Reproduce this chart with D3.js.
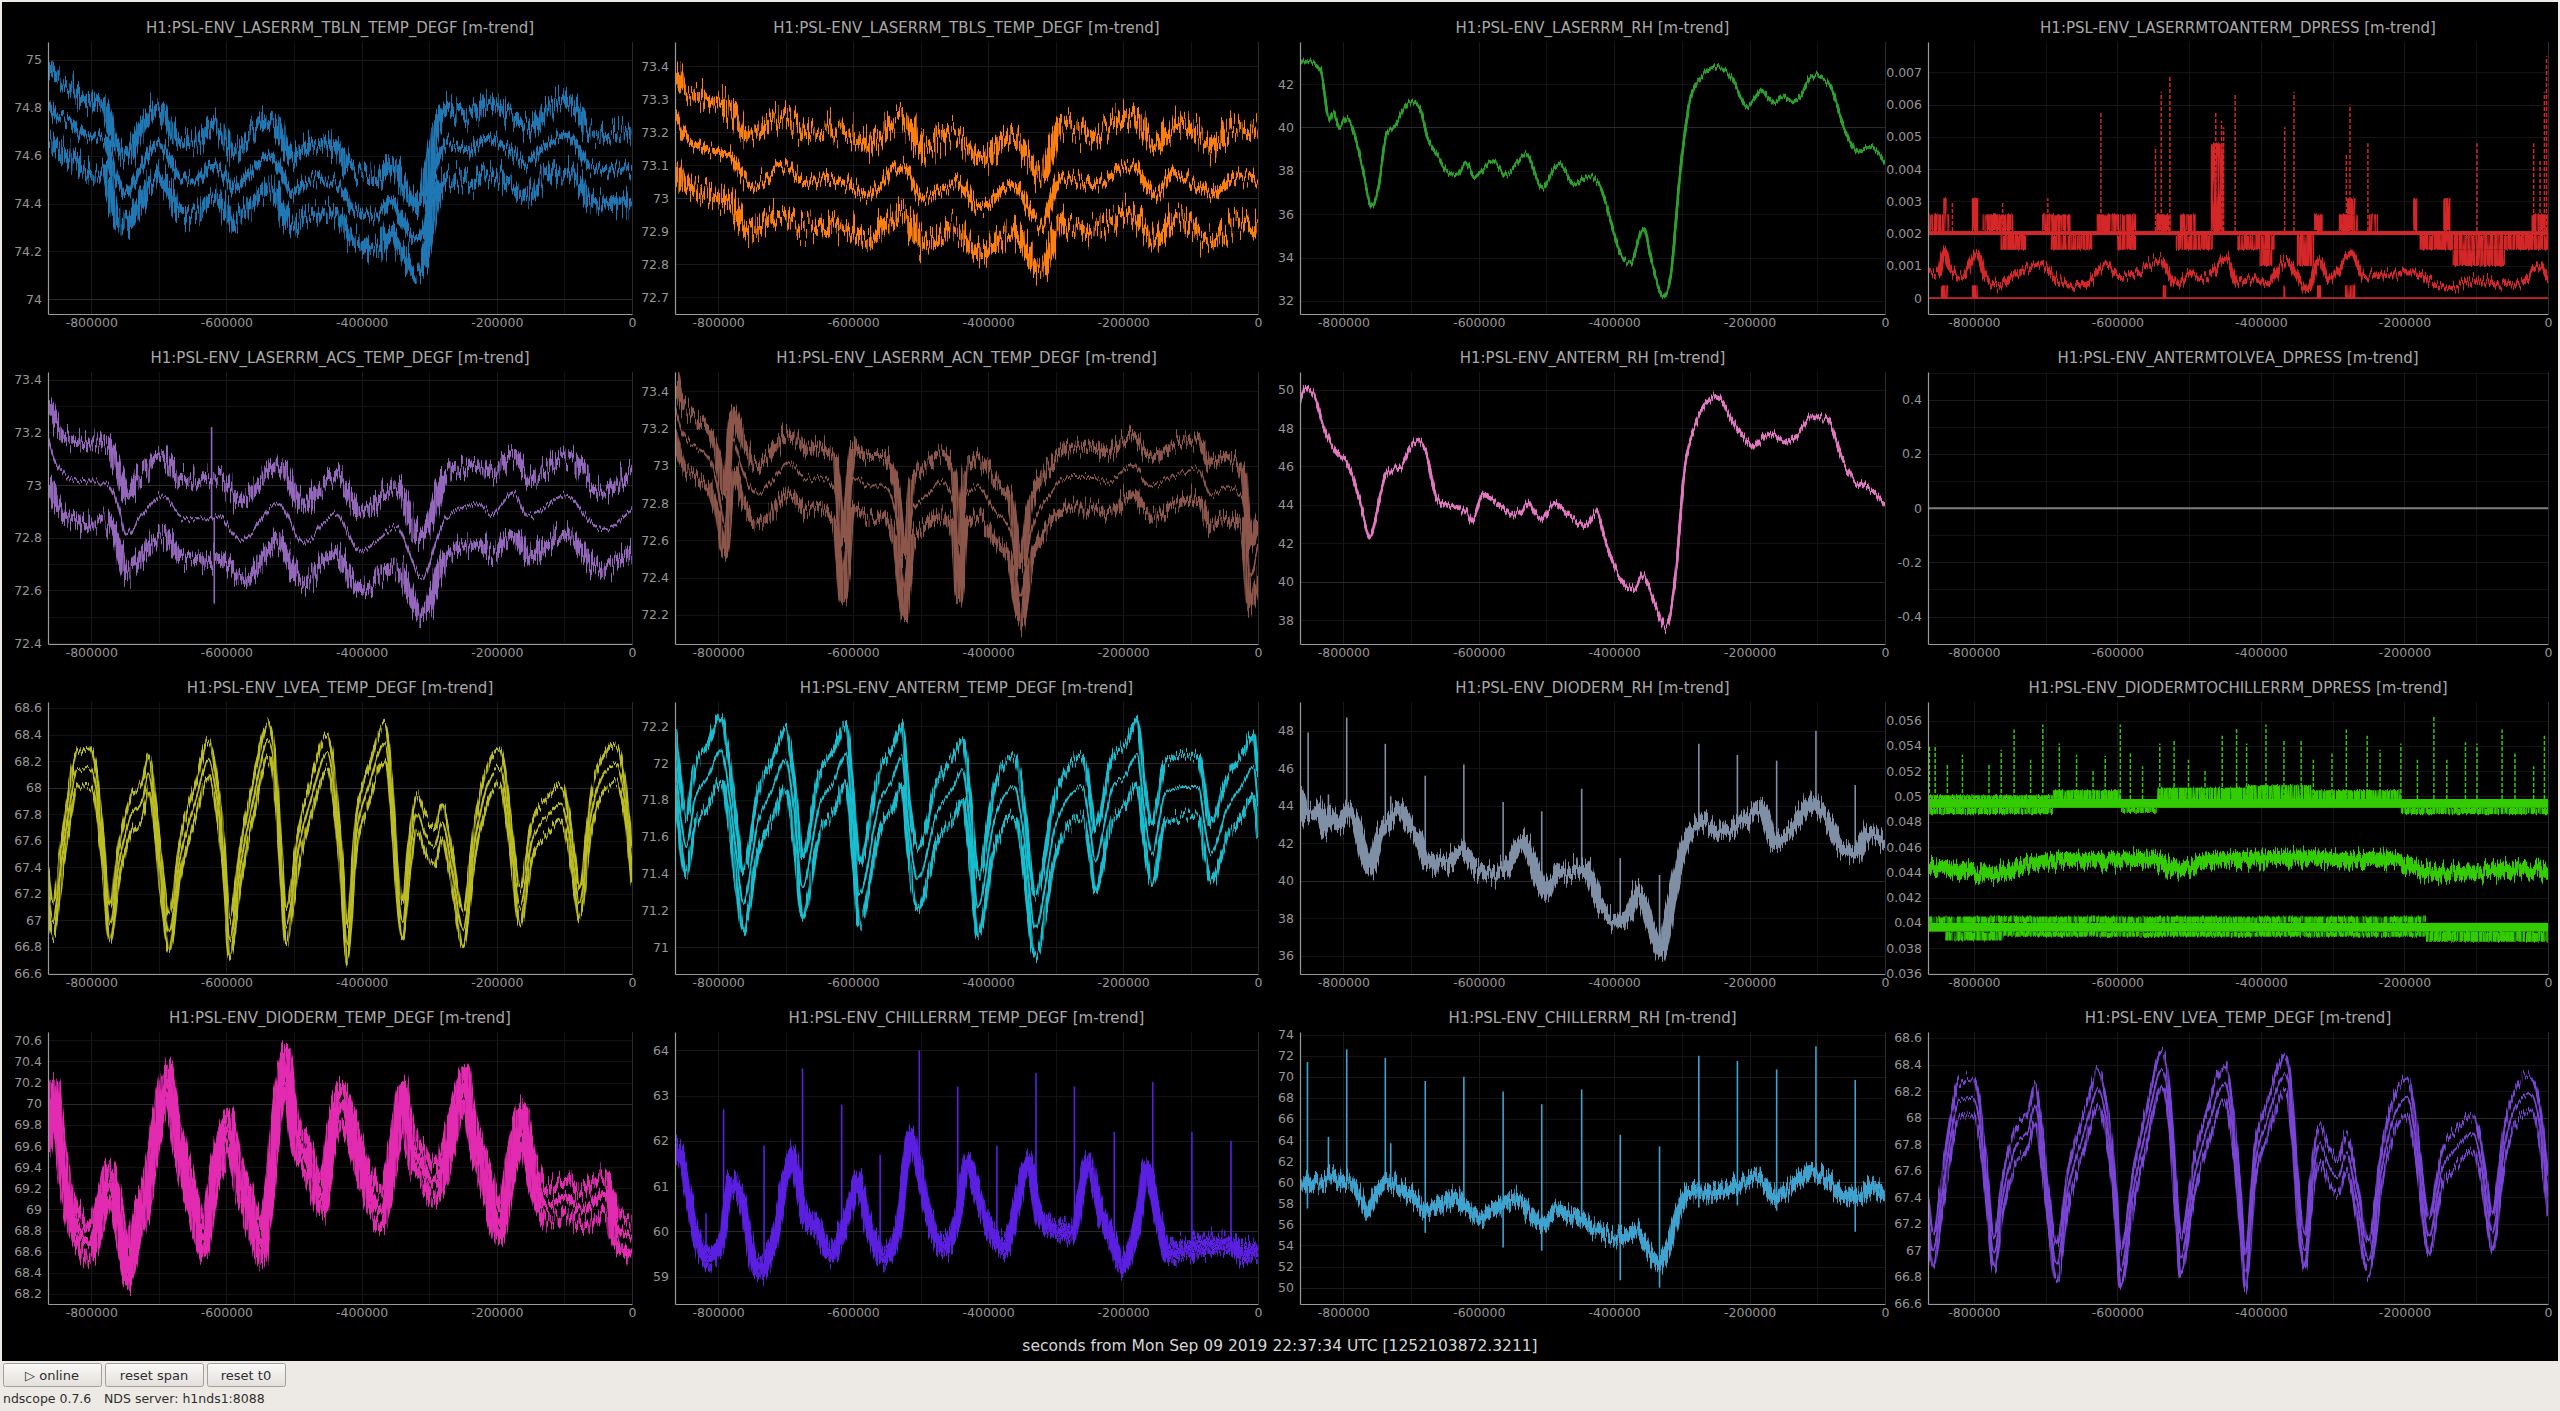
<!DOCTYPE html>
<html>
<head>
<meta charset="utf-8">
<title>ndscope</title>
<script src="https://cdn.jsdelivr.net/npm/d3@7/dist/d3.min.js"></script>
<style>
  body { margin: 0; background: #edeae6; overflow: hidden; }
  svg { display: block; }
  text { font-family: "DejaVu Sans", sans-serif; }
</style>
</head>
<body>
<svg id="scope" width="2560" height="1411"></svg>
<script>
// x axis is seconds before t0, the series keep their time in ks (1000 s)
var xTicks = [-800000, -600000, -400000, -200000, 0];

var titles = [
  'H1:PSL-ENV_LASERRM_TBLN_TEMP_DEGF [m-trend]',
  'H1:PSL-ENV_LASERRM_TBLS_TEMP_DEGF [m-trend]',
  'H1:PSL-ENV_LASERRM_RH [m-trend]',
  'H1:PSL-ENV_LASERRMTOANTERM_DPRESS [m-trend]',
  'H1:PSL-ENV_LASERRM_ACS_TEMP_DEGF [m-trend]',
  'H1:PSL-ENV_LASERRM_ACN_TEMP_DEGF [m-trend]',
  'H1:PSL-ENV_ANTERM_RH [m-trend]',
  'H1:PSL-ENV_ANTERMTOLVEA_DPRESS [m-trend]',
  'H1:PSL-ENV_LVEA_TEMP_DEGF [m-trend]',
  'H1:PSL-ENV_ANTERM_TEMP_DEGF [m-trend]',
  'H1:PSL-ENV_DIODERM_RH [m-trend]',
  'H1:PSL-ENV_DIODERMTOCHILLERRM_DPRESS [m-trend]',
  'H1:PSL-ENV_DIODERM_TEMP_DEGF [m-trend]',
  'H1:PSL-ENV_CHILLERRM_TEMP_DEGF [m-trend]',
  'H1:PSL-ENV_CHILLERRM_RH [m-trend]',
  'H1:PSL-ENV_LVEA_TEMP_DEGF [m-trend]'
];

var colors = ['#1f77b4', '#ff7f0e', '#2ca02c', '#d62728', '#9467bd', '#8c564b', '#e377c2', '#7f7f7f',
              '#bcbd22', '#17becf', '#7f8fa6', '#33cc00', '#e22bb0', '#5a1fe0', '#3fa3cf', '#7a45d4'];

var yDomains = [[73.939, 75.074], [72.65, 73.474], [31.4, 43.94], [-0.00049, 0.00794],
                [72.397, 73.429], [72.044, 73.504], [36.75, 50.92], [-0.501, 0.502],
                [66.595, 68.645], [70.855, 72.332], [35.02, 49.53], [0.03595, 0.05748],
                [68.105, 70.679], [58.395, 64.406], [48.45, 74.25], [66.595, 68.645]];

var yTicks = [
  [74, 74.2, 74.4, 74.6, 74.8, 75],
  [72.7, 72.8, 72.9, 73, 73.1, 73.2, 73.3, 73.4],
  [32, 34, 36, 38, 40, 42],
  [0, 0.001, 0.002, 0.003, 0.004, 0.005, 0.006, 0.007],
  [72.4, 72.6, 72.8, 73, 73.2, 73.4],
  [72.2, 72.4, 72.6, 72.8, 73, 73.2, 73.4],
  [38, 40, 42, 44, 46, 48, 50],
  [-0.4, -0.2, 0, 0.2, 0.4],
  [66.6, 66.8, 67, 67.2, 67.4, 67.6, 67.8, 68, 68.2, 68.4, 68.6],
  [71, 71.2, 71.4, 71.6, 71.8, 72, 72.2],
  [36, 38, 40, 42, 44, 46, 48],
  [0.036, 0.038, 0.04, 0.042, 0.044, 0.046, 0.048, 0.05, 0.052, 0.054, 0.056],
  [68.2, 68.4, 68.6, 68.8, 69, 69.2, 69.4, 69.6, 69.8, 70, 70.2, 70.4, 70.6],
  [59, 60, 61, 62, 63, 64],
  [50, 52, 54, 56, 58, 60, 62, 64, 66, 68, 70, 72, 74],
  [66.6, 66.8, 67, 67.2, 67.4, 67.6, 67.8, 68, 68.2, 68.4, 68.6]
];

// mean traces, [t ks, value]
var tblnMean = [[-864,74.82],[-848,74.76],[-830,74.74],[-811,74.68],[-780,74.67],[-768,74.53],[-756,74.46],[-750,74.44],[-731,74.53],[-701,74.65],[-688,74.61],[-670,74.51],[-645,74.50],[-621,74.57],[-599,74.50],[-590,74.46],[-566,74.53],[-535,74.60],[-510,74.47],[-504,74.44],[-480,74.49],[-449,74.50],[-431,74.47],[-418,74.40],[-394,74.36],[-375,74.35],[-357,74.42],[-345,74.36],[-320,74.25],[-308,74.29],[-290,74.57],[-271,74.65],[-240,74.62],[-216,74.67],[-179,74.62],[-155,74.57],[-130,74.64],[-99,74.68],[-81,74.64],[-63,74.55],[-38,74.54],[-13,74.55],[0,74.53]];
var tblsMean = [[-864,73.25],[-848,73.18],[-818,73.15],[-782,73.13],[-764,73.06],[-752,73.04],[-703,73.10],[-673,73.05],[-636,73.06],[-606,73.04],[-582,73.01],[-527,73.10],[-497,73.00],[-448,73.05],[-412,72.97],[-364,73.04],[-321,72.92],[-291,73.07],[-248,73.04],[-188,73.10],[-152,73.01],[-121,73.08],[-67,73.01],[-30,73.07],[0,73.05]];
var laserRh = [[-864,43.05],[-845,42.97],[-833,42.6],[-821,40.35],[-815,40.74],[-805,39.97],[-796,40.43],[-784,39.74],[-772,38.2],[-758,36.35],[-748,37.28],[-736,39.74],[-724,40.12],[-712,40.8],[-700,41.2],[-688,40.97],[-675,39.43],[-663,38.82],[-645,37.9],[-633,37.8],[-619,38.35],[-606,37.74],[-579,38.5],[-560,37.8],[-530,38.78],[-506,37.2],[-482,38.35],[-458,37.35],[-439,37.74],[-421,37.28],[-403,35.43],[-391,34.2],[-376,33.74],[-357,35.35],[-343,33.58],[-327,32.2],[-316,33.28],[-304,37.43],[-288,41.28],[-270,42.35],[-248,42.8],[-228,42.35],[-203,40.97],[-183,41.66],[-163,41.12],[-151,41.43],[-137,41.2],[-125,41.43],[-107,42.43],[-82,41.97],[-58,39.74],[-40,38.9],[-22,39.12],[0,38.35]];
var dpMean = [[-864,0.00088],[-849,0.00078],[-842,0.0015],[-834,0.00098],[-818,0.00067],[-795,0.0014],[-785,0.00067],[-763,0.00036],[-745,0.00078],[-705,0.00103],[-684,0.00057],[-653,0.00036],[-617,0.00103],[-598,0.00067],[-574,0.00078],[-540,0.0012],[-519,0.00041],[-500,0.00078],[-476,0.0006],[-448,0.00123],[-433,0.00047],[-409,0.00057],[-390,0.00047],[-366,0.00119],[-335,0.00026],[-319,0.0012],[-305,0.00057],[-274,0.0014],[-256,0.00067],[-219,0.00078],[-182,0.00078],[-164,0.00047],[-133,0.00036],[-97,0.00057],[-66,0.00041],[-36,0.00052],[-11,0.00098],[0,0.00057]];
var acsMean = [[-864,73.17],[-851,73.08],[-827,73.02],[-802,73.01],[-778,73.01],[-760,72.92],[-748,72.81],[-730,72.87],[-693,72.96],[-669,72.88],[-655,72.87],[-626,72.87],[-612,72.88],[-578,72.79],[-524,72.93],[-487,72.78],[-439,72.89],[-402,72.75],[-348,72.84],[-312,72.65],[-275,72.88],[-227,72.93],[-208,72.89],[-175,72.97],[-154,72.88],[-99,72.96],[-45,72.83],[0,72.91]];
var acnMean = [[-864,73.32],[-851,73.16],[-833,73.10],[-815,73.05],[-802,72.91],[-790,72.69],[-778,73.14],[-766,73.00],[-742,72.85],[-694,73.01],[-669,72.93],[-651,72.94],[-627,72.87],[-615,72.44],[-600,72.94],[-579,72.89],[-554,72.89],[-536,72.73],[-524,72.35],[-512,72.76],[-488,72.85],[-470,72.91],[-451,72.80],[-443,72.44],[-433,72.84],[-415,72.89],[-391,72.76],[-367,72.66],[-352,72.30],[-338,72.62],[-310,72.84],[-280,72.94],[-243,72.94],[-222,72.91],[-185,73.01],[-161,72.89],[-119,72.96],[-88,72.98],[-70,72.84],[-46,72.89],[-22,72.82],[-12,72.41],[0,72.57]];
var antermRh = [[-864,49.39],[-855,50.09],[-842,49.65],[-830,48.09],[-818,47.13],[-806,46.6],[-794,46.17],[-776,44.26],[-760,42.35],[-752,43.4],[-737,45.65],[-727,45.9],[-715,46.0],[-703,46.87],[-689,47.39],[-679,46.87],[-661,44.26],[-642,43.91],[-618,43.65],[-610,43.13],[-594,44.52],[-576,44.17],[-552,43.57],[-539,43.57],[-527,44.09],[-509,43.22],[-487,44.09],[-467,43.39],[-442,42.96],[-427,43.65],[-412,42.0],[-394,40.35],[-370,39.57],[-358,40.35],[-339,38.78],[-324,37.65],[-309,40.43],[-297,45.48],[-279,48.26],[-249,49.65],[-218,47.91],[-194,47.04],[-170,47.74],[-146,47.3],[-131,47.57],[-107,48.6],[-85,48.43],[-61,46.17],[-42,45.13],[-18,44.78],[0,43.91]];
var antermToLvea = [[-864,0],[0,0]];
var lveaMean = [[-864,67.25],[-857,67.0],[-845,67.4],[-833,67.83],[-821,68.13],[-802,68.15],[-793,68.0],[-784,67.58],[-772,66.98],[-760,67.4],[-742,67.78],[-724,67.91],[-715,68.1],[-705,67.75],[-696,67.3],[-685,66.9],[-669,67.45],[-645,67.91],[-627,68.21],[-615,67.96],[-602,67.33],[-596,66.85],[-578,67.45],[-560,67.91],[-538,68.36],[-526,67.96],[-518,67.33],[-512,66.95],[-493,67.55],[-475,67.91],[-451,68.26],[-439,67.91],[-429,67.33],[-422,66.83],[-408,67.65],[-390,68.0],[-366,68.33],[-356,67.96],[-348,67.33],[-339,67.0],[-330,67.45],[-318,67.8],[-305,67.63],[-293,67.55],[-281,67.73],[-267,67.4],[-250,66.93],[-233,67.58],[-215,68.0],[-196,68.15],[-184,67.83],[-175,67.4],[-166,67.1],[-148,67.6],[-126,67.78],[-105,67.88],[-93,67.65],[-85,67.35],[-78,67.13],[-61,67.78],[-39,68.13],[-24,68.18],[-12,67.96],[0,67.4]];
var antermTemp = [[-864,72.02],[-855,71.69],[-847,71.55],[-835,71.8],[-815,71.93],[-796,72.07],[-784,71.84],[-772,71.47],[-763,71.24],[-742,71.66],[-718,71.87],[-700,72.02],[-688,71.75],[-675,71.33],[-651,71.76],[-627,71.91],[-611,72.05],[-600,71.66],[-591,71.29],[-560,71.8],[-542,71.91],[-528,72.04],[-518,71.66],[-504,71.37],[-476,71.73],[-451,71.87],[-438,71.96],[-427,71.66],[-415,71.22],[-391,71.69],[-361,71.87],[-349,71.66],[-330,71.11],[-300,71.66],[-261,71.87],[-249,71.66],[-242,71.47],[-215,71.87],[-197,71.93],[-179,72.05],[-169,71.75],[-157,71.51],[-137,71.84],[-107,71.87],[-88,71.87],[-80,71.69],[-70,71.51],[-46,71.75],[-22,71.89],[-7,71.98],[0,71.77]];
var diodeRh = [[-864,44.67],[-855,43.42],[-842,43.42],[-834,43.87],[-827,42.71],[-818,43.6],[-806,42.98],[-794,43.78],[-782,43.25],[-770,41.47],[-760,40.58],[-746,42.53],[-730,43.25],[-715,43.87],[-703,42.89],[-691,42.53],[-676,40.93],[-664,41.11],[-649,40.93],[-624,41.64],[-606,40.75],[-582,40.4],[-558,40.75],[-536,42.09],[-521,41.11],[-502,39.33],[-485,40.4],[-461,40.58],[-442,40.75],[-424,38.97],[-400,37.91],[-382,38.08],[-364,39.33],[-346,37.55],[-331,36.21],[-315,38.97],[-297,41.82],[-273,43.07],[-242,42.53],[-212,43.07],[-182,43.96],[-164,42.0],[-139,42.71],[-109,44.14],[-85,43.25],[-61,41.64],[-42,41.47],[-24,42.53],[0,42.0]];
var ddMean = [[-864,0.04445],[-829,0.0443],[-783,0.0439],[-725,0.0446],[-667,0.0450],[-597,0.0450],[-551,0.0451],[-516,0.0442],[-470,0.0450],[-400,0.0451],[-330,0.0452],[-284,0.0450],[-226,0.0451],[-168,0.0441],[-110,0.0439],[-52,0.0442],[0,0.0442]];
var diodeTemp = [[-864,69.69],[-859,69.94],[-853,70.07],[-845,69.56],[-833,69.06],[-815,68.77],[-802,68.68],[-790,68.87],[-775,69.25],[-762,69.03],[-754,68.68],[-744,68.46],[-732,68.87],[-718,69.12],[-702,69.82],[-687,70.2],[-675,69.75],[-655,69.19],[-633,68.74],[-618,69.31],[-596,69.75],[-584,69.37],[-566,69.0],[-548,68.68],[-536,69.19],[-524,69.97],[-512,70.35],[-499,69.75],[-481,69.5],[-457,69.12],[-445,69.69],[-429,70.0],[-415,69.75],[-396,69.31],[-369,69.0],[-354,69.5],[-339,70.04],[-330,69.69],[-312,69.44],[-293,69.25],[-281,69.37],[-263,69.82],[-249,70.16],[-233,69.66],[-215,69.25],[-196,68.87],[-178,69.44],[-162,69.82],[-148,69.37],[-124,69.03],[-99,69.12],[-75,69.0],[-39,69.15],[-21,68.8],[0,68.74]];
var chillerTemp = [[-864,61.8],[-857,61.73],[-845,60.92],[-833,59.88],[-815,59.44],[-796,59.74],[-781,61.06],[-766,60.77],[-754,59.74],[-742,59.15],[-718,59.74],[-702,61.06],[-690,61.65],[-675,60.55],[-651,59.96],[-633,59.52],[-609,60.33],[-593,61.06],[-576,60.03],[-554,59.44],[-533,60.03],[-516,62.02],[-500,61.21],[-488,60.33],[-464,59.66],[-445,60.33],[-431,61.51],[-415,60.77],[-397,60.03],[-375,59.66],[-355,60.77],[-340,61.51],[-324,60.33],[-300,60.03],[-276,59.96],[-252,61.51],[-234,60.47],[-215,59.74],[-201,59.29],[-179,60.18],[-165,61.36],[-149,60.33],[-133,59.52],[-94,59.66],[-46,59.74],[-22,59.52],[0,59.59]];
var chillerRh = [[-864,60.23],[-855,59.75],[-842,60.23],[-830,59.91],[-818,60.54],[-802,60.07],[-788,59.91],[-776,58.64],[-764,57.37],[-749,59.27],[-733,60.07],[-715,59.27],[-697,58.64],[-679,57.37],[-655,58.0],[-636,58.48],[-618,57.69],[-600,56.58],[-582,57.22],[-564,58.0],[-545,58.48],[-527,57.37],[-507,55.79],[-485,57.37],[-467,57.06],[-449,56.43],[-430,55.48],[-412,55.0],[-388,54.68],[-367,55.48],[-352,53.9],[-336,52.3],[-318,54.2],[-303,57.69],[-285,59.12],[-255,58.96],[-224,59.59],[-196,60.38],[-182,60.23],[-164,58.64],[-139,59.59],[-109,61.02],[-85,60.23],[-61,58.64],[-36,58.64],[-18,59.43],[0,58.64]];

// min / max traces sit this far [below, above] the mean
var spreads = [[0.14, 0.15], [0.14, 0.15], [0.04, 0.04], null, [0.15, 0.15], [0.16, 0.16], [0.07, 0.07], null,
               [0.13, 0.14], [0.16, 0.17], [0.2, 0.2], null, [0.16, 0.16], [0.15, 0.15], [0.4, 0.4], [0.13, 0.14]];

// max spikes [t ks, peak] and min dips [t ks, low]
var acsSpikes = [[-622,73.22]];
var acsDips = [[-618,72.55]];
var diodeRhSpikes = [[-852,47.9],[-822,44.6],[-795,48.7],[-738,47.3],[-730,44.5],[-679,45.6],[-622,46.2],[-564,44.2],[-507,43.7],[-448,44.9],[-391,41.2],[-333,40.3],[-275,47.3],[-218,46.7],[-160,46.4],[-102,48.0],[-44,45.1]];
var chillerTempSpikes = [[-818,60.4],[-792,62.7],[-732,61.9],[-675,63.6],[-617,62.8],[-560,61.7],[-502,64.0],[-445,63.2],[-387,61.9],[-329,63.5],[-272,63.2],[-213,62.2],[-156,63.3],[-98,62.2],[-40,62.0]];
var chillerRhSpikes = [[-853,71.4],[-822,64.3],[-795,72.6],[-738,71.8],[-730,63.7],[-679,69.6],[-622,70.0],[-564,68.6],[-507,67.4],[-448,68.8],[-391,64.5],[-333,63.4],[-275,72.0],[-218,71.5],[-160,70.7],[-102,72.9],[-44,69.7]];
var chillerRhDips = [[-853,57.5],[-679,55.2],[-564,53.8],[-507,53.5],[-391,50.7],[-333,50.0],[-275,57.6],[-218,57.8],[-160,57.3],[-44,55.3]];

// quantised pressure channels: resting levels, flicker blocks [t0, t1, lo, hi], spikes above the max level
var dpCore = [[-864,0,0.00196,0.00208],[-864,0,-0.00002,0.00003]];
var dpFlicker = [[-864,-834,0.00208,0.0026],[-843,-838,0.0026,0.0031],[-803,-794,0.00208,0.0031],[-788,-745,0.00208,0.0026],[-705,-665,0.00208,0.0026],[-629,-574,0.00208,0.0026],[-546,-525,0.00208,0.0026],[-513,-491,0.00208,0.0026],[-470,-452,0.00208,0.0048],[-326,-314,0.00208,0.0026],[-292,-265,0.00208,0.0026],[-280,-268,0.0026,0.0031],[-250,-237,0.00208,0.0026],[-188,-182,0.00208,0.0031],[-146,-136,0.00208,0.0031],[-23,0,0.00208,0.0026],
  [-763,-727,0.0015,0.00196],[-693,-635,0.0015,0.00196],[-601,-574,0.0015,0.00196],[-519,-467,0.0015,0.00196],[-433,-381,0.0015,0.00196],[-402,-384,0.001,0.0015],[-350,-326,0.001,0.00196],[-179,0,0.0015,0.00196],[-133,-60,0.001,0.0015],
  [-846,-836,0,0.0004],[-803,-794,0,0.0004],[-537,-532,0,0.0004],[-369,-366,0,0.0004],[-322,-316,0,0.0004],[-283,-268,0,0.0004]];
var dpSpikes = [[-830,0.0030],[-760,0.0030],[-697,0.0031],[-623,0.0058],[-547,0.0047],[-539,0.0064],[-527,0.0069],[-463,0.0058],[-455,0.0055],[-452,0.0053],[-436,0.0063],[-367,0.0053],[-354,0.0064],[-281,0.0045],[-276,0.0060],[-251,0.0048],[-99,0.0048],[-20,0.0048],[-11,0.0043],[-5,0.0064],[-2,0.0075]];
var ddCore = [[-864,0,0.0491,0.0498],[-864,0,0.0393,0.0400]];
var ddFlicker = [[-864,-690,0.0486,0.0491],[-864,-690,0.0498,0.0501],[-690,-595,0.0495,0.0505],[-595,-545,0.0487,0.0491],[-545,-420,0.0496,0.0507],[-420,-330,0.0496,0.0509],[-330,-205,0.0496,0.0505],[-205,0,0.0486,0.0491],
  [-864,-170,0.0400,0.0405],[-840,-760,0.0386,0.0393],[-760,-170,0.0389,0.0393],[-170,0,0.0385,0.0393]];
var ddSpikes = [[-862,0.0540],[-854,0.0541],[-837,0.0526],[-816,0.0533],[-779,0.0525],[-762,0.0537],[-744,0.0553],[-721,0.0529],[-704,0.0557],[-681,0.0542],[-657,0.0533],[-634,0.0521],[-617,0.0532],[-596,0.0557],[-582,0.0534],[-565,0.0524],[-541,0.0542],[-521,0.0545],[-501,0.0529],[-478,0.0521],[-454,0.0548],[-434,0.0555],[-420,0.0542],[-393,0.0557],[-368,0.0545],[-344,0.0545],[-327,0.0529],[-301,0.0534],[-281,0.0553],[-252,0.0548],[-234,0.0537],[-205,0.0542],[-182,0.0529],[-159,0.0563],[-141,0.0529],[-115,0.0543],[-99,0.0542],[-64,0.0553],[-46,0.0534],[-20,0.0524],[-5,0.0548]];

var bottomLabel = 'seconds from Mon Sep 09 2019 22:37:34 UTC [1252103872.3211]';
var buttonLabels = ['\u25B7 online', 'reset span', 'reset t0'];
var statusLabels = ['ndscope 0.7.6', 'NDS server: h1nds1:8088'];

var means = [tblnMean, tblsMean, laserRh, dpMean, acsMean, acnMean, antermRh, antermToLvea,
             lveaMean, antermTemp, diodeRh, ddMean, diodeTemp, chillerTemp, chillerRh, lveaMean];
var spikeSets = {4: acsSpikes, 10: diodeRhSpikes, 13: chillerTempSpikes, 14: chillerRhSpikes};
var dipSets = {4: acsDips, 14: chillerRhDips};
var blockSets = {
  3: {core: dpCore, flicker: dpFlicker, spikes: dpSpikes, base: 0.00208},
  11: {core: ddCore, flicker: ddFlicker, spikes: ddSpikes, base: 0.0498}
};

// ---- layout / style ----
var colX = [[48, 632], [675, 1258], [1300, 1885], [1928, 2548]];
var rowY = [42, 372, 702, 1032];
var plotH = 272;
// [min/max stroke, mean stroke] px
var widths = [[10, 6], [10, 6], [2, 2.5], [0, 5], [9, 2], [7, 2], [2, 2.5], [0, 2],
              [3, 2], [4, 2], [6, 10], [0, 14], [8, 6], [6, 6], [5, 5], [3, 2]];
// vertical jitter of the [min/max, mean] traces, px
var jitter = [[14, 8], [16, 9], [3, 3], [0, 6], [12, 4], [10, 4], [4, 4], [0, 0],
              [6, 3], [7, 3], [10, 8], [0, 7], [10, 6], [8, 7], [8, 7], [6, 3]];

var svg = d3.select('#scope');
var defs = svg.append('defs');

svg.append('rect').attr('width', 2560).attr('height', 1411).attr('fill', '#edeae6');
svg.append('rect').attr('x', 2).attr('y', 2).attr('width', 2556).attr('height', 1359).attr('fill', '#000');

// noisy look of the trend traces: jitter each pixel column up/down and thin it out
function addFuzz(id, scale, slope, bias) {
  var f = defs.append('filter').attr('id', id)
    .attr('x', '-5%').attr('y', '-80%').attr('width', '110%').attr('height', '260%')
    .attr('color-interpolation-filters', 'sRGB');
  f.append('feTurbulence').attr('type', 'fractalNoise').attr('baseFrequency', '0.6 0.02')
    .attr('numOctaves', 2).attr('seed', 4).attr('result', 'noise');
  f.append('feColorMatrix').attr('in', 'noise').attr('type', 'matrix')
    .attr('values', '0 0 0 0 0.5  0 1 0 0 0  0 0 0 0 0  0 0 0 0 1').attr('result', 'shift');
  f.append('feDisplacementMap').attr('in', 'SourceGraphic').attr('in2', 'shift')
    .attr('scale', scale).attr('xChannelSelector', 'R').attr('yChannelSelector', 'G').attr('result', 'moved');
  f.append('feColorMatrix').attr('in', 'noise').attr('type', 'matrix')
    .attr('values', '0 0 0 0 0  0 0 0 0 0  0 0 0 0 0  0 0 ' + slope + ' 0 ' + bias).attr('result', 'mask');
  f.append('feComposite').attr('in', 'moved').attr('in2', 'mask').attr('operator', 'in');
}
addFuzz('fuzzBlock', 4, 3, -0.4);

// pyqtgraph style grid: three tick levels, coarser ones brighter
function gridLevels(dom, size) {
  var dif = Math.abs(dom[1] - dom[0]);
  var opt = dif / Math.max(2, Math.log(size));
  var p10 = Math.pow(10, Math.floor(Math.log10(opt)));
  var iv = [1, 2, 10, 20, 100].map(function(v) { return v * p10; });
  var k = 0;
  while (iv[k + 1] <= opt) k++;
  var lv = [iv[k + 2], iv[k + 1]];
  if (dif / iv[k] <= size / Math.min(size / 20, 30)) lv.push(iv[k]);
  return lv;
}
function gridLines(dom, size) {
  var lo = Math.min(dom[0], dom[1]), hi = Math.max(dom[0], dom[1]);
  var seen = [], out = [];
  gridLevels(dom, size).forEach(function(step, lvl) {
    var vals = [];
    for (var k = Math.ceil(lo / step - 1e-9); k * step <= hi + step * 1e-9; k++) vals.push(k * step);
    var fade = Math.min(1, 0.05 * size / (vals.length + 1));
    vals.forEach(function(v) {
      if (seen.some(function(s) { return Math.abs(s - v) < step * 1e-6; })) return;
      seen.push(v);
      var g = Math.round(8 + 34 / (lvl + 1) * fade);
      out.push({v: v, c: d3.rgb(g, g, g).formatHex()});
    });
  });
  return out;
}

function labelFmt(ticks) {
  var step = Math.abs(ticks[1] - ticks[0]);
  var dec = Math.max(0, -Math.floor(Math.log10(step) + 1e-9));
  return function(d) { return String(+d.toFixed(dec)); };
}

function valAt(series, tk) {
  var i = d3.bisector(function(d) { return d[0]; }).left(series, tk);
  if (i <= 0) return series[0][1];
  if (i >= series.length) return series[series.length - 1][1];
  var a = series[i - 1], b = series[i];
  return a[1] + (b[1] - a[1]) * (tk - a[0]) / (b[0] - a[0]);
}

titles.forEach(function(title, i) {
  var col = i % 4, row = Math.floor(i / 4);
  var left = colX[col][0], right = colX[col][1];
  var top = rowY[row], bottom = top + plotH;
  var x = d3.scaleLinear().domain([-864000, 0]).range([left, right]);
  var y = d3.scaleLinear().domain(yDomains[i]).range([bottom, top]);
  var color = colors[i];
  var panel = svg.append('g');

  if (jitter[i][0]) addFuzz('fuzzBand' + i, jitter[i][0] * 3.5, 2.6, -0.1);
  if (jitter[i][1]) addFuzz('fuzzMean' + i, jitter[i][1] * 3.5, 3, 0.3);

  // grid
  var grid = panel.append('g').attr('shape-rendering', 'crispEdges');
  grid.selectAll(null).data(gridLines(x.domain(), right - left)).enter().append('line')
    .attr('x1', function(d) { return Math.round(x(d.v)) + 0.5; })
    .attr('x2', function(d) { return Math.round(x(d.v)) + 0.5; })
    .attr('y1', top).attr('y2', bottom)
    .attr('stroke', function(d) { return d.c; });
  grid.selectAll(null).data(gridLines(y.domain(), plotH)).enter().append('line')
    .attr('y1', function(d) { return Math.round(y(d.v)) + 0.5; })
    .attr('y2', function(d) { return Math.round(y(d.v)) + 0.5; })
    .attr('x1', left).attr('x2', right)
    .attr('stroke', function(d) { return d.c; });

  defs.append('clipPath').attr('id', 'clip' + i).append('rect')
    .attr('x', left).attr('y', top).attr('width', right - left).attr('height', plotH);
  var plot = panel.append('g').attr('clip-path', 'url(#clip' + i + ')');

  function trace(off) {
    return d3.line()
      .x(function(d) { return x(d[0] * 1000); })
      .y(function(d) { return y(d[1] + off); })
      .curve(d3.curveMonotoneX);
  }
  function blocks(g, data, op) {
    g.selectAll(null).data(data).enter().append('rect')
      .attr('x', function(d) { return x(d[0] * 1000); })
      .attr('width', function(d) { return Math.max(1, x(d[1] * 1000) - x(d[0] * 1000)); })
      .attr('y', function(d) { return y(d[3]); })
      .attr('height', function(d) { return Math.max(1.2, y(d[2]) - y(d[3])); })
      .attr('fill', color).attr('opacity', op);
  }
  function sticks(g, data, from, w, dash) {
    g.selectAll(null).data(data).enter().append('line')
      .attr('x1', function(d) { return x(d[0] * 1000); })
      .attr('x2', function(d) { return x(d[0] * 1000); })
      .attr('y1', function(d) { return y(from(d)); })
      .attr('y2', function(d) { return y(d[1]); })
      .attr('stroke', color).attr('stroke-width', w)
      .attr('stroke-dasharray', dash || null);
  }

  var bs = blockSets[i];
  if (bs) {
    blocks(plot.append('g').attr('filter', 'url(#fuzzBlock)'), bs.flicker, 1);
    blocks(plot.append('g'), bs.core, 1);
    sticks(plot.append('g'), bs.spikes, function() { return bs.base; }, 1.5, '4 2');
  }

  var sp = spreads[i];
  if (sp) {
    var band = plot.append('g').attr('filter', 'url(#fuzzBand' + i + ')');
    [-sp[0], sp[1]].forEach(function(off) {
      band.append('path').datum(means[i]).attr('d', trace(off))
        .attr('fill', 'none').attr('stroke', color)
        .attr('stroke-width', widths[i][0]).attr('stroke-linejoin', 'round');
    });
  }

  var onMean = function(d) { return valAt(means[i], d[0]); };
  if (spikeSets[i]) sticks(plot.append('g'), spikeSets[i], onMean, 1.6);
  if (dipSets[i]) sticks(plot.append('g'), dipSets[i], onMean, 1.6);

  var meanG = plot.append('g');
  if (jitter[i][1]) meanG.attr('filter', 'url(#fuzzMean' + i + ')');
  meanG.append('path').datum(means[i]).attr('d', trace(0))
    .attr('fill', 'none').attr('stroke', color)
    .attr('stroke-width', widths[i][1]).attr('stroke-linejoin', 'round');

  // axes
  var ya = panel.append('g').attr('transform', 'translate(' + left + ',0)')
    .call(d3.axisLeft(y).tickValues(yTicks[i]).tickSize(0).tickSizeOuter(0)
      .tickPadding(6).tickFormat(labelFmt(yTicks[i])));
  var xa = panel.append('g').attr('transform', 'translate(0,' + bottom + ')')
    .call(d3.axisBottom(x).tickValues(xTicks).tickSize(0).tickSizeOuter(0)
      .tickPadding(4.5).tickFormat(function(d) { return String(d); }));
  [ya, xa].forEach(function(a) {
    a.attr('font-size', 12.5).attr('font-family', '"DejaVu Sans", sans-serif');
    a.select('.domain').attr('stroke', '#9a9a9a').attr('stroke-width', 1.2);
    a.selectAll('text').attr('fill', '#969696');
  });

  panel.append('text')
    .attr('x', (left + right) / 2).attr('y', top - 9.5)
    .attr('text-anchor', 'middle').attr('font-size', 15).attr('fill', '#a8a8a8')
    .text(title);
});

// time reference under the grid
svg.append('text').attr('x', 1280).attr('y', 1351).attr('text-anchor', 'middle')
  .attr('font-size', 15.5).attr('fill', '#d6d6d6').text(bottomLabel);

// control strip
var grad = defs.append('linearGradient').attr('id', 'btn').attr('x1', 0).attr('y1', 0).attr('x2', 0).attr('y2', 1);
grad.append('stop').attr('offset', 0).attr('stop-color', '#fbfaf9');
grad.append('stop').attr('offset', 1).attr('stop-color', '#e2dfdb');
var btnX = [3, 105, 207], btnW = [98, 98, 78];
var btn = svg.selectAll('g.btn').data(buttonLabels).enter().append('g').attr('class', 'btn');
btn.append('rect')
  .attr('x', function(d, k) { return btnX[k] + 0.5; }).attr('y', 1363.5)
  .attr('width', function(d, k) { return btnW[k]; }).attr('height', 23)
  .attr('rx', 2).attr('fill', 'url(#btn)').attr('stroke', '#a39f9a');
btn.append('text')
  .attr('x', function(d, k) { return btnX[k] + btnW[k] / 2; }).attr('y', 1380)
  .attr('text-anchor', 'middle').attr('font-size', 13).attr('fill', '#2e2e2e')
  .text(function(d) { return d; });

svg.selectAll('text.status').data(statusLabels).enter().append('text').attr('class', 'status')
  .attr('x', function(d, k) { return k === 0 ? 3 : 104; }).attr('y', 1403)
  .attr('font-size', 12.5).attr('fill', '#2e2e2e')
  .text(function(d) { return d; });
</script>
</body>
</html>
